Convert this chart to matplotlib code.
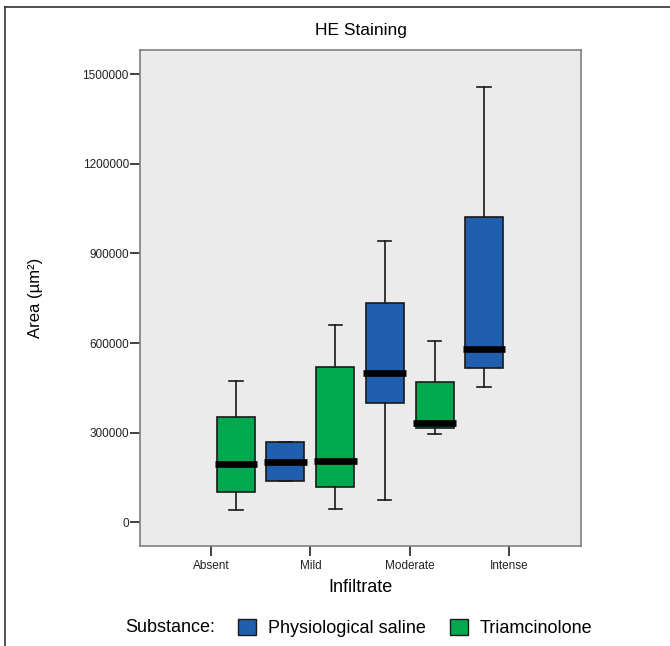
#!/usr/bin/env python3
"""
HE Staining: area of infiltrate by grade, physiological saline vs triamcinolone
"""

import matplotlib
matplotlib.use('Agg')
import matplotlib.pyplot as plt
import matplotlib.patches as mpatches
from matplotlib.lines import Line2D

plt.rcParams['font.family'] = ['Liberation Sans', 'DejaVu Sans']

# Data (box plot statistics, in µm²)
categories = ['Absent', 'Mild', 'Moderate', 'Intense']

# Physiological saline (no box for "Absent")
saline_cats = [1, 2, 3]
saline_whislo = [137300, 75700, 452000]
saline_q1 = [137300, 400400, 516600]
saline_med = [202900, 500900, 581200]
saline_q3 = [267800, 734200, 1023200]
saline_whishi = [267800, 941800, 1458400]

# Triamcinolone (no box for "Intense")
triam_cats = [0, 1, 2]
triam_whislo = [41200, 44500, 295600]
triam_q1 = [100400, 117200, 314700]
triam_med = [194200, 205200, 331400]
triam_q3 = [351500, 518900, 468700]
triam_whishi = [474100, 660600, 607000]

ytick_values = [0, 300000, 600000, 900000, 1200000, 1500000]

BLUE = '#1f5fae'
GREEN = '#00a84f'
DARK = '#1a1a1a'


def make_stats(whislo, q1, med, q3, whishi):
    """Build the list of dicts that Axes.bxp wants"""
    stats = []
    for lo, a, m, b, hi in zip(whislo, q1, med, q3, whishi):
        stats.append(dict(whislo=lo, q1=a, med=m, q3=b, whishi=hi, fliers=[]))
    return stats


def draw_group(ax, stats, positions, color):
    ax.bxp(
        stats,
        positions=positions,
        widths=0.383,
        capwidths=0.135,
        patch_artist=True,
        showfliers=False,
        boxprops=dict(facecolor=color, edgecolor=DARK, linewidth=1.2),
        medianprops=dict(color='black', linewidth=4.8, solid_capstyle='butt'),
        whiskerprops=dict(color=DARK, linewidth=1.2),
        capprops=dict(color=DARK, linewidth=1.2),
    )


fig = plt.figure(figsize=(6.70, 6.46), dpi=100)
fig.patch.set_facecolor('white')

# outer frame (top and left edges only are visible in the reference)
fig.add_artist(Line2D([5 / 670, 1.0], [1 - 7 / 646, 1 - 7 / 646],
                      transform=fig.transFigure, color='#333333', linewidth=1.2))
fig.add_artist(Line2D([5 / 670, 5 / 670], [0.0, 1 - 7 / 646],
                      transform=fig.transFigure, color='#333333', linewidth=1.2))

ax = fig.add_axes([140 / 670, 100 / 646, 441 / 670, 496 / 646])
ax.set_facecolor('#ebebeb')

offset = 0.252
saline_pos = [c - offset for c in saline_cats]
triam_pos = [c + offset for c in triam_cats]

draw_group(ax, make_stats(saline_whislo, saline_q1, saline_med, saline_q3, saline_whishi),
           saline_pos, BLUE)
draw_group(ax, make_stats(triam_whislo, triam_q1, triam_med, triam_q3, triam_whishi),
           triam_pos, GREEN)

# let the median bars stick out a little past the box edges
for line in ax.lines:
    if line.get_linewidth() > 3:
        xs = line.get_xdata()
        line.set_xdata([xs[0] - 0.022, xs[1] + 0.022])

ax.set_xlim(-0.715, 3.725)
ax.set_ylim(-79000, 1581000)

ax.set_xticks(range(len(categories)))
ax.set_xticklabels(categories, fontsize=8.5, color='#222222')
ax.set_yticks(ytick_values)
ax.set_yticklabels([str(v) for v in ytick_values], fontsize=8.5, color='#222222')

ax.tick_params(axis='x', direction='out', length=7, width=1.3, color='#333333', pad=3)
ax.tick_params(axis='y', direction='out', length=7, width=1.3, color='#333333', pad=1)

for spine in ax.spines.values():
    spine.set_color('#7f7f7f')
    spine.set_linewidth(1.2)

ax.set_xlabel('Infiltrate', fontsize=13)
ax.xaxis.set_label_coords(0.5, -0.067)
ax.set_ylabel('Area (µm²)', fontsize=12)
ax.yaxis.set_label_coords(-0.238, 0.5)
ax.yaxis.label.set_verticalalignment('center')

fig.text(0.5385, 1 - 30 / 646, 'HE Staining', fontsize=12.5, ha='center', va='center')

# legend row at the bottom
fig.text(125 / 670, 18 / 646, 'Substance:', fontsize=13, ha='left', va='center')
handles = [
    mpatches.Patch(facecolor=BLUE, edgecolor=DARK, linewidth=1.0, label='Physiological saline'),
    mpatches.Patch(facecolor=GREEN, edgecolor=DARK, linewidth=1.0, label='Triamcinolone'),
]
fig.legend(handles=handles, loc='center left', bbox_to_anchor=(238 / 670, 18 / 646),
           ncol=2, frameon=False, fontsize=13, handlelength=1.0, handleheight=1.0,
           handletextpad=0.66, columnspacing=1.33, borderpad=0, borderaxespad=0)

fig.savefig('out.png', dpi=100, facecolor='white')
plt.close(fig)
